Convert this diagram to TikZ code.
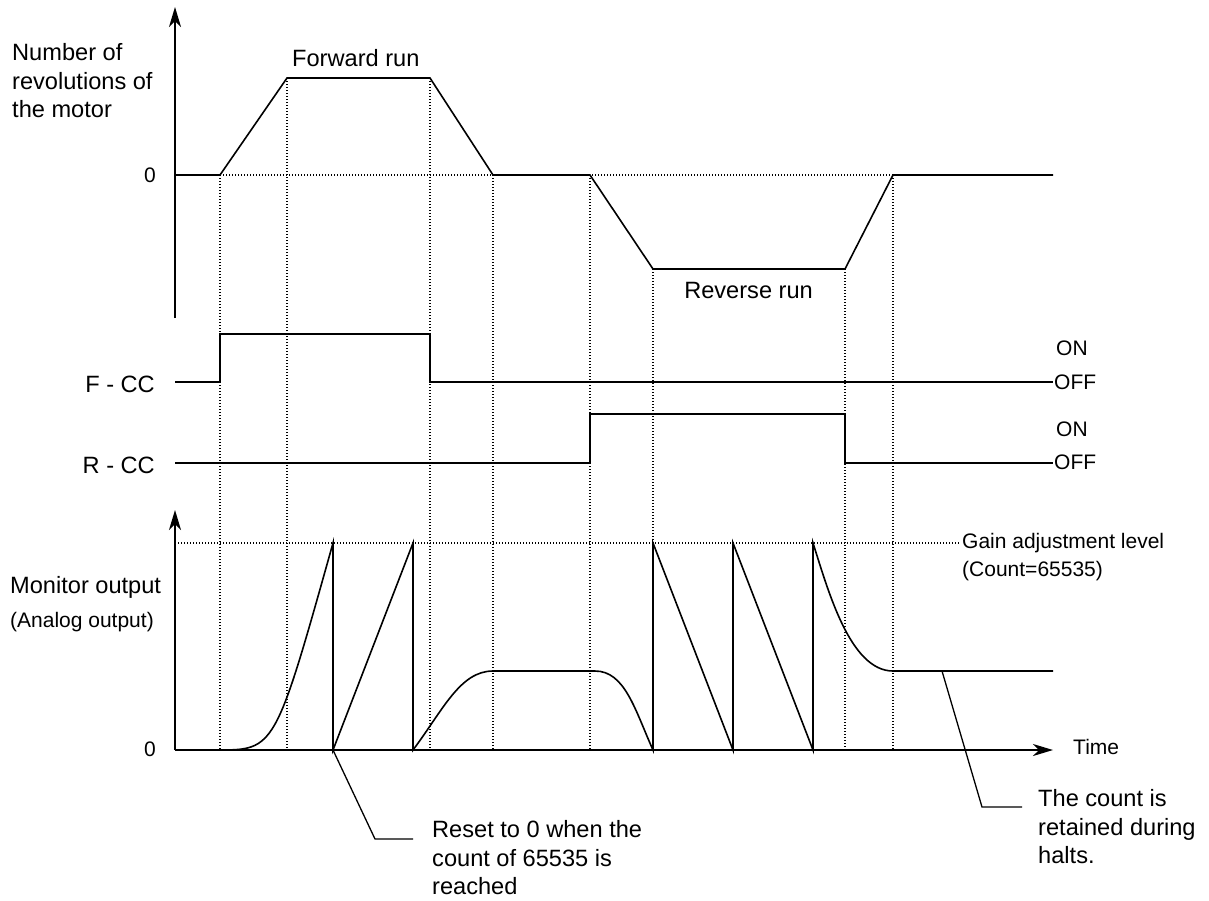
\documentclass[tikz,border=0pt]{standalone}
\usepackage{fontspec}
\setmainfont{Liberation Sans}
\usetikzlibrary{arrows.meta}
\begin{document}
\begin{tikzpicture}[x=1pt,y=-1pt,
  sig/.style={line width=1.6pt, line join=miter},
  axisline/.style={line width=1.6pt, -{Stealth[length=20pt,width=12pt,inset=6pt]}},
  guide/.style={line width=1.2pt, dash pattern=on 1.2pt off 1.8pt},
  bigtext/.style={font=\fontsize{23.6}{28.5}\selectfont, inner sep=0pt, align=left},
  smalltext/.style={font=\fontsize{21}{28}\selectfont, inner sep=0pt, align=left}]
\useasboundingbox (0,0) rectangle (1209,900);

% ---------- guide lines ----------
\draw[guide] (220,175) -- (893,175);
\draw[guide] (175,543) -- (960,543);
\foreach \x/\y in {220/175, 287/78, 430/78, 493/175, 590/175, 653/269, 845/269, 893/175}
  \draw[guide] (\x,\y) -- (\x,750);

% ---------- motor revolutions ----------
\draw[axisline] (175,318) -- (175,7);
\draw[sig] (175,175) -- (220,175) -- (287,78) -- (430,78) -- (493,175) -- (590,175)
  -- (653,269) -- (845,269) -- (893,175) -- (1053,175);

\node[bigtext, anchor=west] (rev) at (12,81) {Number of\\revolutions of\\the motor};
\node[smalltext, anchor=east] (zeroA) at (156,175) {0};
\node[bigtext, anchor=west] (fwd) at (292,58) {Forward run};
\node[bigtext, anchor=east] (rev2) at (813,290) {Reverse run};

% ---------- F-CC / R-CC ----------
\draw[sig] (175,382) -- (220,382) -- (220,334) -- (430,334) -- (430,382) -- (1053,382);
\draw[sig] (175,463) -- (590,463) -- (590,414) -- (845,414) -- (845,463) -- (1053,463);
\node[bigtext, anchor=east] (fcc) at (155,384) {F - CC};
\node[bigtext, anchor=east] (rcc) at (155,465) {R - CC};
\node[smalltext, anchor=west] (on1) at (1056,348) {ON};
\node[smalltext, anchor=west] (off1) at (1054,382) {OFF};
\node[smalltext, anchor=west] (on2) at (1056,429) {ON};
\node[smalltext, anchor=west] (off2) at (1054,462) {OFF};

% ---------- monitor output ----------
\draw[axisline] (175,750) -- (175,510);
\draw[axisline] (175,750) -- (1053,750);
\draw[sig] (217,750) .. controls (275,750) .. (333,543) -- (333,750) -- (413,543) -- (413,750)
  .. controls (443,710) and (460,671) .. (493,671) -- (595,671)
  .. controls (625,671) and (635,710) .. (653,750) -- (653,543) -- (733,750) -- (733,543)
  -- (813,750) -- (813,543)
  .. controls (828,590) and (850,671) .. (893,671) -- (1053,671);

\node[bigtext, anchor=west] (mon) at (10,587) {Monitor output};
\node[smalltext, anchor=west] (ana) at (10,622) {(Analog output)};
\node[smalltext, anchor=east] (zeroB) at (156,749) {0};
\node[smalltext, anchor=west] (gain) at (962,543) {Gain adjustment level};
\node[smalltext, anchor=west] (cnt) at (962,571) {(Count=65535)};
\node[smalltext, anchor=west] (time) at (1073,747) {Time};

% ---------- callouts ----------
\coordinate (c1a) at (333,750);
\coordinate (c1b) at (375,839);
\coordinate (c1c) at (413,839);
\draw[line width=1.3pt] (c1a) -- (c1b) -- (c1c);
\node[bigtext, anchor=west] (reset) at (432,858) {Reset to 0 when the\\count of 65535 is\\reached};

\coordinate (c2a) at (942,671);
\coordinate (c2b) at (982,807);
\coordinate (c2c) at (1022,807);
\draw[line width=1.3pt] (c2a) -- (c2b) -- (c2c);
\node[bigtext, anchor=west] (keep) at (1038,827) {The count is\\retained during\\halts.};
\end{tikzpicture}
\end{document}
